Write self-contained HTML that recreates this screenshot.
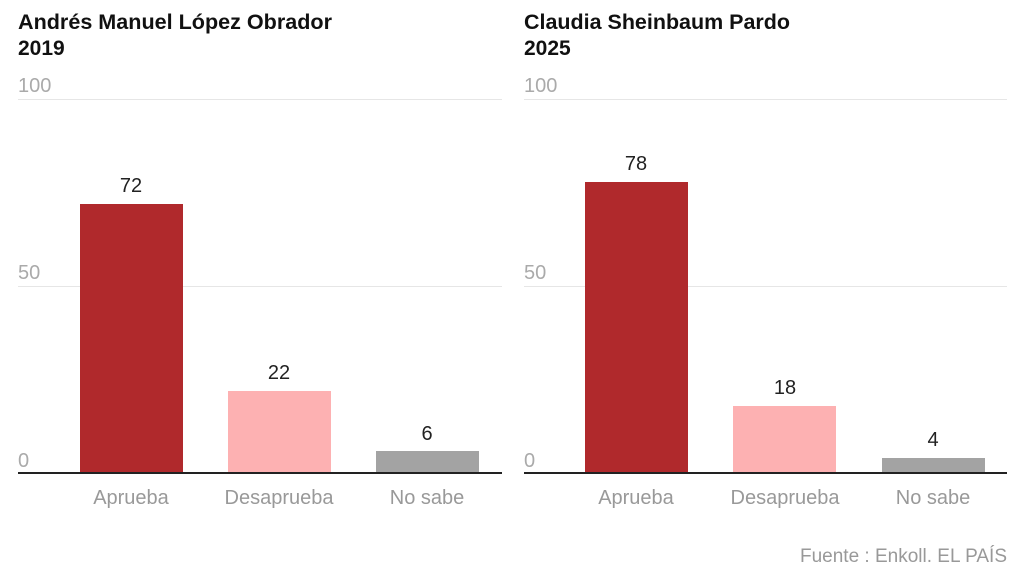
<!DOCTYPE html>
<html><head><meta charset="utf-8"><style>
html,body{margin:0;padding:0;background:#fff;width:1024px;height:572px;overflow:hidden}
svg{display:block;font-family:"Liberation Sans",sans-serif}
.t{font-weight:bold;font-size:21px;fill:#111}
.ax{font-size:20px;fill:#aaa}
.v{font-size:20px;fill:#222;text-anchor:middle}
.c{font-size:20px;fill:#999;text-anchor:middle}
</style></head><body>
<svg width="1024" height="572" viewBox="0 0 1024 572">
<text class="t" x="18" y="29" textLength="314" lengthAdjust="spacingAndGlyphs">Andrés Manuel López Obrador</text>
<text class="t" x="18" y="55">2019</text>
<text class="t" x="524" y="29" textLength="266" lengthAdjust="spacingAndGlyphs">Claudia Sheinbaum Pardo</text>
<text class="t" x="524" y="55">2025</text>
<g stroke="#e6e6e6" stroke-width="1">
<line x1="18" y1="99.5" x2="502" y2="99.5"/><line x1="18" y1="286.5" x2="502" y2="286.5"/>
<line x1="524" y1="99.5" x2="1007" y2="99.5"/><line x1="524" y1="286.5" x2="1007" y2="286.5"/>
</g>
<text class="ax" x="18" y="92">100</text><text class="ax" x="18" y="279">50</text><text class="ax" x="18" y="467">0</text>
<text class="ax" x="524" y="92">100</text><text class="ax" x="524" y="279">50</text><text class="ax" x="524" y="467">0</text>
<rect x="80" y="204" width="103" height="269" fill="#b0292c"/>
<rect x="228" y="391" width="103" height="82" fill="#fdb1b2"/>
<rect x="376" y="451" width="103" height="22" fill="#a3a3a3"/>
<rect x="585" y="182" width="103" height="291" fill="#b0292c"/>
<rect x="733" y="406" width="103" height="67" fill="#fdb1b2"/>
<rect x="882" y="458" width="103" height="15" fill="#a3a3a3"/>
<line x1="18" y1="473" x2="502" y2="473" stroke="#222" stroke-width="2"/>
<line x1="524" y1="473" x2="1007" y2="473" stroke="#222" stroke-width="2"/>
<text class="v" x="131" y="192">72</text><text class="v" x="279" y="379">22</text><text class="v" x="427" y="440">6</text>
<text class="v" x="636" y="170">78</text><text class="v" x="785" y="394">18</text><text class="v" x="933" y="446">4</text>
<text class="c" x="131" y="504">Aprueba</text><text class="c" x="279" y="504">Desaprueba</text><text class="c" x="427" y="504">No sabe</text>
<text class="c" x="636" y="504">Aprueba</text><text class="c" x="785" y="504">Desaprueba</text><text class="c" x="933" y="504">No sabe</text>
<text x="1007" y="562" font-size="19" fill="#999" text-anchor="end">Fuente : Enkoll. EL PAÍS</text>
</svg>
</body></html>
